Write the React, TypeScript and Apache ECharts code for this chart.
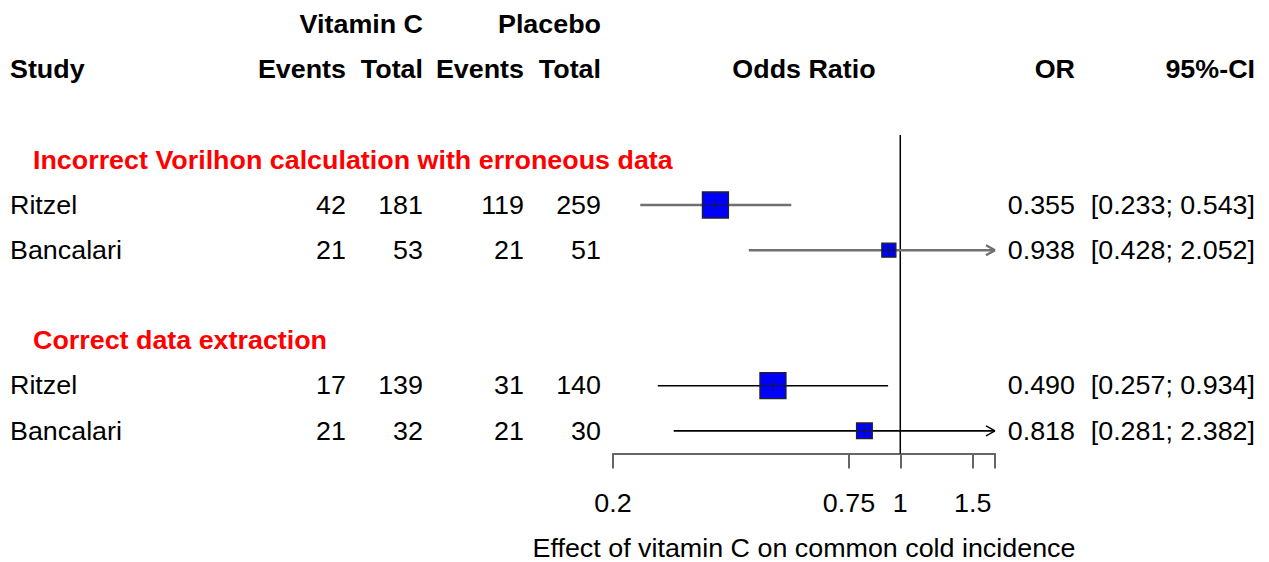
import React, { useEffect, useRef } from "react";
import * as echarts from "echarts";

// ---------- data ----------
const groupTitles = ["Incorrect Vorilhon calculation with erroneous data", "Correct data extraction"];
const studies = ["Ritzel", "Bancalari", "Ritzel", "Bancalari"];
const studyGroup = [0, 0, 1, 1];
const vitEvents = [42, 21, 17, 21];
const vitTotal = [181, 53, 139, 32];
const plaEvents = [119, 21, 31, 21];
const plaTotal = [259, 51, 140, 30];
const orValues = [0.355, 0.938, 0.49, 0.818];
const ciLower = [0.233, 0.428, 0.257, 0.281];
const ciUpper = [0.543, 2.052, 0.934, 2.382];
const tickValues = [0.2, 0.75, 1, 1.5, 1.7];
const tickLabels = ["0.2", "0.75", "1", "1.5", ""];
const xMin = 0.2;
const xMax = 1.7;
const xTitle = "Effect of vitamin C on common cold incidence";

// ---------- layout ----------
const studyRows = [2, 3, 6, 7];
const titleRows = [1, 5];
const FONT = '"Liberation Sans", Arial, Helvetica, sans-serif';
const FS = 25;
const STRETCH = 1.075;
const ROW_PX = 45.17;
const Y_MIN = 0.45;
const Y_MAX = 7.5;
const GRID_TOP = 135;
const GRID_LEFT = 613;
const GRID_RIGHT_X = 995;

const fmt3 = (v: number) => v.toFixed(3);

type TextSpec = { row: number; x?: number; xv?: number; text: string; align: string; bold?: boolean; color?: string };

function buildTexts(): TextSpec[] {
  const t: TextSpec[] = [];
  t.push({ row: -2, x: 423, text: "Vitamin C", align: "right", bold: true });
  t.push({ row: -2, x: 601, text: "Placebo", align: "right", bold: true });
  t.push({ row: -1, x: 10, text: "Study", align: "left", bold: true });
  t.push({ row: -1, x: 346, text: "Events", align: "right", bold: true });
  t.push({ row: -1, x: 423, text: "Total", align: "right", bold: true });
  t.push({ row: -1, x: 524, text: "Events", align: "right", bold: true });
  t.push({ row: -1, x: 601, text: "Total", align: "right", bold: true });
  t.push({ row: -1, xv: (Math.log(xMin) + Math.log(xMax)) / 2, text: "Odds Ratio", align: "center", bold: true });
  t.push({ row: -1, x: 1075, text: "OR", align: "right", bold: true });
  t.push({ row: -1, x: 1255, text: "95%-CI", align: "right", bold: true });
  groupTitles.forEach((g, i) => {
    t.push({ row: titleRows[i], x: 33, text: g, align: "left", bold: true, color: "#ff0000" });
  });
  studies.forEach((s, i) => {
    const r = studyRows[i];
    t.push({ row: r, x: 10, text: s, align: "left" });
    t.push({ row: r, x: 346, text: String(vitEvents[i]), align: "right" });
    t.push({ row: r, x: 423, text: String(vitTotal[i]), align: "right" });
    t.push({ row: r, x: 524, text: String(plaEvents[i]), align: "right" });
    t.push({ row: r, x: 601, text: String(plaTotal[i]), align: "right" });
    t.push({ row: r, x: 1075, text: fmt3(orValues[i]), align: "right" });
    t.push({ row: r, x: 1255, text: `[${fmt3(ciLower[i])}; ${fmt3(ciUpper[i])}]`, align: "right" });
  });
  tickValues.forEach((v, i) => {
    if (tickLabels[i] !== "") t.push({ row: 8.6, xv: Math.log(v), text: tickLabels[i], align: "center" });
  });
  t.push({ row: 9.6, xv: (Math.log(xMin) + Math.log(xMax)) / 2, text: xTitle, align: "center" });
  return t;
}

export default function App() {
  const ref = useRef<HTMLDivElement>(null);

  useEffect(() => {
    if (!ref.current) return;
    const chart = echarts.init(ref.current, undefined, { renderer: "svg" });

    const texts = buildTexts();
    const weights = studies.map((_, i) => {
      const se = (Math.log(ciUpper[i]) - Math.log(ciLower[i])) / (2 * 1.959964);
      return 1 / (se * se);
    });
    const maxW = [0, 1].map((g) => Math.max(...weights.filter((_, i) => studyGroup[i] === g)));

    const forestData = studies.map((_, i) => [Math.log(orValues[i]), studyRows[i], Math.log(ciLower[i]), Math.log(ciUpper[i])]);

    const option: any = {
      animation: false,
      backgroundColor: "#ffffff",
      grid: {
        left: GRID_LEFT,
        top: GRID_TOP,
        width: GRID_RIGHT_X - GRID_LEFT,
        height: (Y_MAX - Y_MIN) * ROW_PX,
        containLabel: false,
      },
      xAxis: {
        type: "value",
        min: Math.log(xMin),
        max: Math.log(xMax),
        position: "bottom",
        splitLine: { show: false },
        axisLine: { show: true, lineStyle: { color: "#666666", width: 2 } },
        axisTick: {
          show: true,
          inside: false,
          length: 15,
          customValues: tickValues.map((v) => Math.log(v)),
          lineStyle: { color: "#666666", width: 2 },
        },
        axisLabel: { show: false },
      },
      yAxis: {
        type: "value",
        inverse: true,
        min: Y_MIN,
        max: Y_MAX,
        show: false,
        splitLine: { show: false },
      },
      series: [
        {
          type: "line",
          data: [
            [0, Y_MIN],
            [0, Y_MAX],
          ],
          symbol: "none",
          lineStyle: { color: "#000000", width: 1.5 },
          silent: true,
          z: 1,
        },
        {
          type: "custom",
          data: forestData,
          z: 3,
          renderItem: (params: any, api: any) => {
            const i = params.dataIndex;
            const est = api.value(0);
            const row = api.value(1);
            const lo = api.value(2);
            const hi = api.value(3);
            const lnMin = Math.log(xMin);
            const lnMax = Math.log(xMax);
            const y = api.coord([0, row])[1];
            const xc = api.coord([est, row])[0];
            const xl = api.coord([Math.max(lo, lnMin), row])[0];
            const xh = api.coord([Math.min(hi, lnMax), row])[0];
            const color = studyGroup[i] === 0 ? "#707070" : "#000000";
            const lw = studyGroup[i] === 0 ? 2.4 : 1.6;
            const side = 26 * Math.sqrt(weights[i] / maxW[studyGroup[i]]);
            const children: any[] = [
              { type: "line", shape: { x1: xl, y1: y, x2: xh, y2: y }, style: { stroke: color, lineWidth: lw } },
            ];
            if (hi > lnMax) {
              children.push({ type: "line", shape: { x1: xh - 9, y1: y - 5, x2: xh, y2: y }, style: { stroke: color, lineWidth: lw } });
              children.push({ type: "line", shape: { x1: xh - 9, y1: y + 5, x2: xh, y2: y }, style: { stroke: color, lineWidth: lw } });
            }
            if (lo < lnMin) {
              children.push({ type: "line", shape: { x1: xl + 9, y1: y - 5, x2: xl, y2: y }, style: { stroke: color, lineWidth: lw } });
              children.push({ type: "line", shape: { x1: xl + 9, y1: y + 5, x2: xl, y2: y }, style: { stroke: color, lineWidth: lw } });
            }
            children.push({
              type: "rect",
              shape: { x: xc - side / 2, y: y - side / 2, width: side, height: side },
              style: { fill: "#0000ff", stroke: "#222222", lineWidth: 1.3 },
            });
            children.push({
              type: "line",
              shape: { x1: xc - side / 2, y1: y, x2: xc + side / 2, y2: y },
              style: { stroke: "#1a1a1a", lineWidth: 1 },
            });
            const th = Math.min(5, side / 2);
            children.push({
              type: "line",
              shape: { x1: xc, y1: y - th, x2: xc, y2: y + th },
              style: { stroke: "#1a1a1a", lineWidth: 1 },
            });
            return { type: "group", children };
          },
        },
        {
          type: "custom",
          data: texts.map((t) => [t.xv ?? 0, t.row]),
          z: 4,
          silent: true,
          renderItem: (params: any, api: any) => {
            const t = texts[params.dataIndex];
            const p = api.coord([t.xv ?? 0, t.row]);
            const x = t.xv !== undefined ? p[0] : (t.x as number);
            return {
              type: "text",
              x,
              y: p[1],
              scaleX: STRETCH,
              style: {
                text: t.text,
                x: 0,
                y: 0,
                align: t.align,
                verticalAlign: "middle",
                fill: t.color || "#000000",
                font: `${t.bold ? "bold " : ""}${FS}px ${FONT}`,
              },
            };
          },
        },
      ],
    };

    chart.setOption(option);
    return () => chart.dispose();
  }, []);

  return (
    <div
      ref={ref}
      style={{ position: "absolute", left: 0, top: 0, width: 1269, height: 562, background: "#ffffff" }}
    />
  );
}
